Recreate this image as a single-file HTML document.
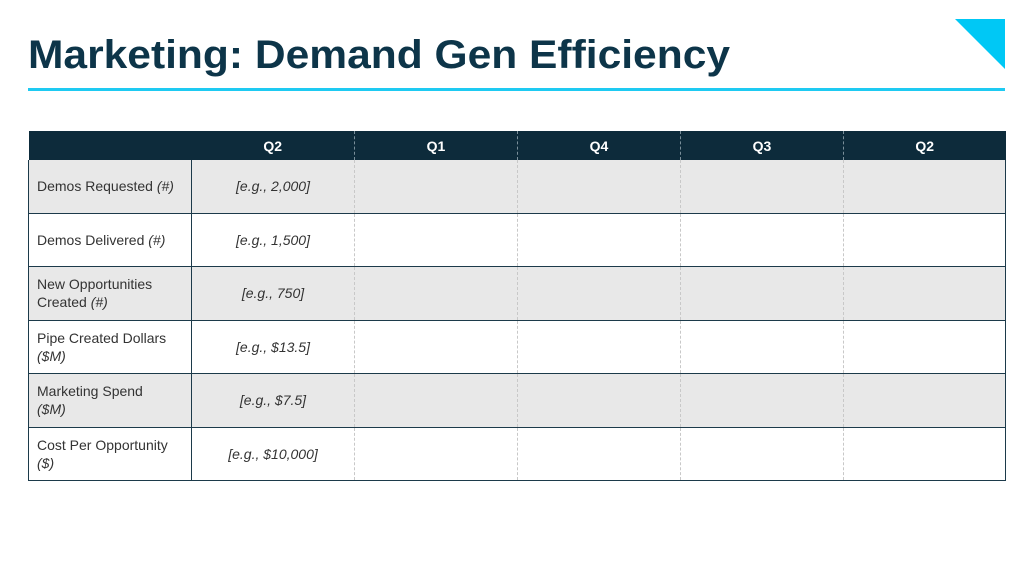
<!DOCTYPE html>
<html><head><meta charset="utf-8"><style>
body{margin:0;width:1024px;height:576px;background:#fff;position:relative;overflow:hidden;font-family:"Liberation Sans",sans-serif}
.abs{position:absolute}
table{position:absolute;left:28px;top:131px;border-collapse:collapse;table-layout:fixed;width:977px}
td,th{padding:0;font-size:14px;color:#333}
th{background:#0d2b3b;color:#fff;font-weight:bold;height:29px;text-align:center;border-left:1px dashed #7a8f9a}
th:first-child,th:nth-child(2){border-left:none}
td{height:52.5px;border-bottom:1px solid #1c3a4a;border-left:1px dashed #c8c8c8}
td.lab{text-align:left;padding-left:8px;border-left:1px solid #1c3a4a;line-height:18px}
td.ex{text-align:center;font-style:italic;border-left:1px solid #1c3a4a}
td.last{border-right:1px solid #1c3a4a}
tr.sh td{background:#e8e8e8}
</style></head><body>
<svg class="abs" style="left:0;top:0" width="1024" height="100">
<text x="28" y="68" font-family="Liberation Sans" font-weight="bold" font-size="40" fill="#0d3549" textLength="702" lengthAdjust="spacingAndGlyphs">Marketing: Demand Gen Efficiency</text>
<polygon points="955,19 1005,19 1005,69" fill="#00c8f5"/>
<rect x="28" y="88" width="977" height="3" fill="#1ecaf2"/>
</svg>
<table>
<colgroup><col style="width:163px"><col style="width:163px"><col style="width:163px"><col style="width:163px"><col style="width:163px"><col style="width:162px"></colgroup>
<tr><th></th><th>Q2</th><th>Q1</th><th>Q4</th><th>Q3</th><th>Q2</th></tr>
<tr class="sh"><td class="lab">Demos Requested <i>(#)</i></td><td class="ex">[e.g., 2,000]</td><td></td><td></td><td></td><td class="last"></td></tr>
<tr><td class="lab">Demos Delivered <i>(#)</i></td><td class="ex">[e.g., 1,500]</td><td></td><td></td><td></td><td class="last"></td></tr>
<tr class="sh"><td class="lab">New Opportunities<br>Created <i>(#)</i></td><td class="ex">[e.g., 750]</td><td></td><td></td><td></td><td class="last"></td></tr>
<tr><td class="lab">Pipe Created Dollars<br><i>($M)</i></td><td class="ex">[e.g., $13.5]</td><td></td><td></td><td></td><td class="last"></td></tr>
<tr class="sh"><td class="lab">Marketing Spend<br><i>($M)</i></td><td class="ex">[e.g., $7.5]</td><td></td><td></td><td></td><td class="last"></td></tr>
<tr><td class="lab">Cost Per Opportunity<br><i>($)</i></td><td class="ex">[e.g., $10,000]</td><td></td><td></td><td></td><td class="last"></td></tr>
</table>
</body></html>
